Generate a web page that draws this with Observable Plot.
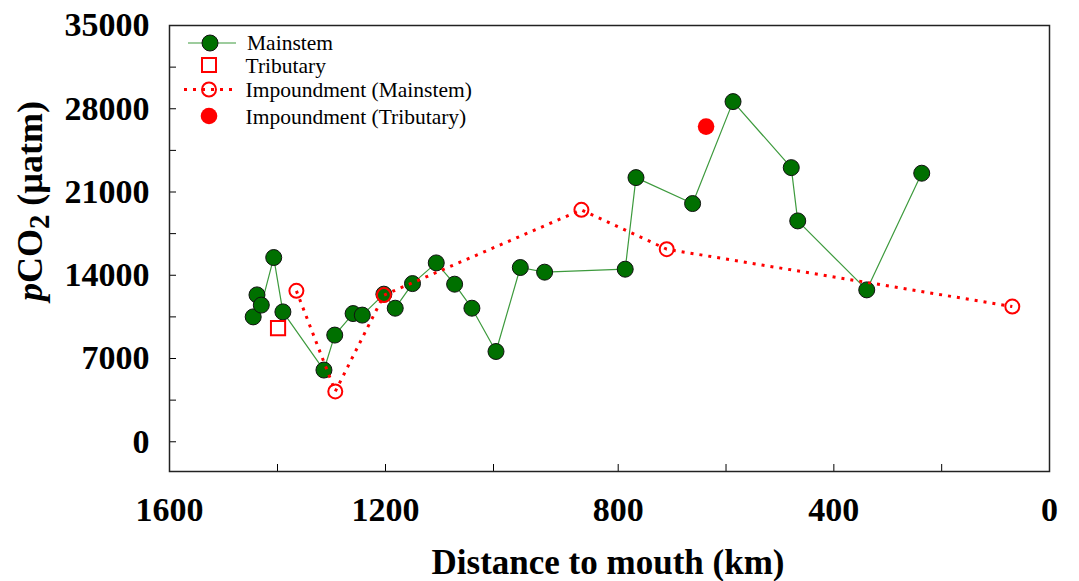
<!DOCTYPE html>
<html>
<head>
<meta charset="utf-8">
<script src="https://cdn.jsdelivr.net/npm/d3@7"></script>
<script src="https://cdn.jsdelivr.net/npm/@observablehq/plot@0.6"></script>
<style>
  body { margin: 0; background: #fff; }
  #wrap { position: relative; width: 1079px; height: 581px; overflow: hidden; font-family: "Liberation Serif", "Times New Roman", serif; color: #000; }
  #ytitle { position: absolute; left: 30px; top: 201px; transform: translate(-50%, -50%) rotate(-90deg); font-size: 36px; font-weight: bold; line-height: 1; white-space: nowrap; }
  #ytitle sub { font-size: 0.8em; vertical-align: -0.25em; line-height: 0; }
  #xtitle { position: absolute; left: 608px; top: 545px; transform: translateX(-50%); font-size: 35px; font-weight: bold; line-height: 1; white-space: nowrap; }
  #legend { position: absolute; left: 180px; top: 28px; }
</style>
</head>
<body>
<div id="wrap">
  <div id="chart"></div>
  <div id="ytitle"><i>p</i>CO<sub>2</sub> (µatm)</div>
  <div id="xtitle">Distance to mouth (km)</div>
  <svg id="legend" width="330" height="110" font-family="Liberation Serif, Times New Roman, serif" font-size="21.5">
    <line x1="8" x2="56" y1="15" y2="15" stroke="#3d9a3d" stroke-width="1.2"></line>
    <circle cx="30" cy="15" r="8" fill="#007000" stroke="#111" stroke-width="1"></circle>
    <text x="67" y="22">Mainstem</text>
    <rect x="22" y="30" width="14" height="14" fill="none" stroke="red" stroke-width="2"></rect>
    <text x="65.5" y="44.5">Tributary</text>
    <line x1="4" x2="52" y1="61.5" y2="61.5" stroke="red" stroke-width="3" stroke-dasharray="3 6"></line>
    <circle cx="29" cy="61.5" r="7" fill="none" stroke="red" stroke-width="2"></circle>
    <text x="65.5" y="69">Impoundment (Mainstem)</text>
    <circle cx="29" cy="88" r="8.3" fill="red"></circle>
    <text x="65.5" y="95.5">Impoundment (Tributary)</text>
  </svg>
</div>
<script>
// Mainstem
const mainDist  = [1445, 1438, 1430, 1407, 1390, 1314, 1294, 1260, 1243, 1203, 1182, 1150, 1106, 1072, 1040, 996, 957, 918, 787, 767, 662, 587, 479, 467, 339, 237];
const mainPco2  = [10500, 12350, 11490, 15490, 10920, 6030, 8970, 10780, 10650, 12410, 11230, 13300, 15040, 13250, 11230, 7590, 14650, 14260, 14510, 22210, 20030, 28600, 23050, 18570, 12770, 22580];
// Tributary
const tribDist  = [1399];
const tribPco2  = [9550];
// Impoundment (Mainstem)
const impMainDist = [1365, 1293, 1203, 859, 710, 69];
const impMainPco2 = [12690, 4230, 12330, 19500, 16190, 11370];
// Impoundment (Tributary)
const impTribDist = [637];
const impTribPco2 = [26500];

const xMajor = [1600, 1200, 800, 400, 0];
const xMinor = [1400, 1000, 600, 200];
const yMajor = [0, 7000, 14000, 21000, 28000, 35000];
const yMinor = [3500, 10500, 17500, 24500, 31500];

const toRows = (xs, ys) => xs.map((d, i) => ({d, v: ys[i]}));
const main = toRows(mainDist, mainPco2);
const trib = toRows(tribDist, tribPco2);
const impMain = toRows(impMainDist, impMainPco2);
const impTrib = toRows(impTribDist, impTribPco2);

// The original axis is slightly stretched between 1000 and 800 km (broken-scale look)
const warp = d3.scaleLinear().domain([1600, 1000, 800, 0]).range([0, 324, 448.7, 880]);

const chart = Plot.plot({
  width: 1079,
  height: 581,
  marginLeft: 169,
  marginRight: 30,
  marginTop: 25,
  marginBottom: 110,
  style: {fontFamily: "Liberation Serif, Times New Roman, serif", fontSize: "34px", fontWeight: "bold", background: "white", overflow: "visible", color: "#000"},
  x: {transform: warp, domain: [0, 880]},
  y: {domain: [-2500, 35000]},
  marks: [
    Plot.axisY({ticks: yMajor, tickSize: -7, tickPadding: 27, label: null, tickFormat: d => String(d)}),
    Plot.axisY({ticks: yMinor, tickSize: -7, tickFormat: () => "", label: null}),
    Plot.axisX({ticks: xMajor.map(warp), tickSize: -7, tickPadding: 32, label: null, tickFormat: u => String(Math.round(warp.invert(u)))}),
    Plot.axisX({ticks: xMinor.map(warp), tickSize: -7, tickFormat: () => "", label: null}),
    Plot.frame({stroke: "#222", strokeWidth: 1.5}),
    Plot.line(main, {x: "d", y: "v", stroke: "#3d9a3d", strokeWidth: 1.2}),
    Plot.dot(main, {x: "d", y: "v", r: 8, fill: "#007000", stroke: "#111", strokeWidth: 1}),
    Plot.line(impMain, {x: "d", y: "v", stroke: "red", strokeWidth: 3, strokeDasharray: "3 6", strokeLinecap: "butt"}),
    Plot.dot(impMain, {x: "d", y: "v", r: 7, fill: "none", stroke: "red", strokeWidth: 2}),
    Plot.dot(trib, {x: "d", y: "v", symbol: "square", r: 8, fill: "none", stroke: "red", strokeWidth: 2}),
    Plot.dot(impTrib, {x: "d", y: "v", r: 8.3, fill: "red"})
  ]
});
document.getElementById("chart").appendChild(chart);
</script>
</body>
</html>
